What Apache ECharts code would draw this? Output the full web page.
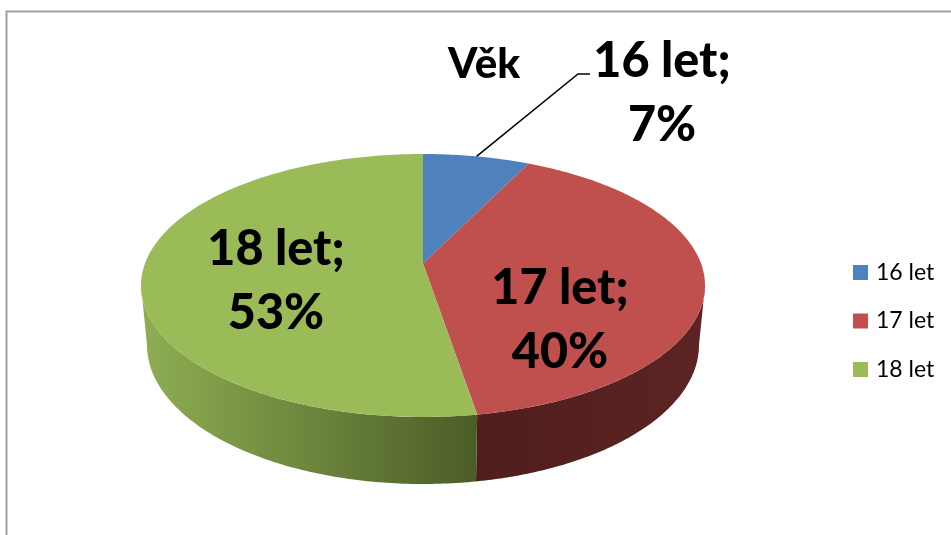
<!DOCTYPE html>
<html><head><meta charset="utf-8">
<style>html,body{margin:0;padding:0;background:#fff}#c{width:951px;height:535px}</style>
<script src="https://cdn.jsdelivr.net/npm/echarts@6/dist/echarts.min.js"></script>
</head><body><div id="c"></div>
<script>
const categories = ['16 let', '17 let', '18 let'];
const shares = [7.2, 40.2, 52.6];
const colors = ['#4f81bd', '#c0504d', '#9bbb59'];
const titleText = 'Věk';

const FONT = 'Lato, "Open Sans", sans-serif';
const top3d = {cx: 423, cy: 285.5, rx: 282, ry: 131.5, apexLift: 22};
const bottom3d = {cx: 423, cy: 345, rx: 276, ry: 139};
const labelPos = [[662, 93], [560, 320], [276, 281]];
const leaderEnd = [[578, 74], [590, 74]];
const wallGrad = [null, ['#4f1e1d', '#5c2422'], ['#8fae52', '#4b5d27']];
const total = shares.reduce((a, b) => a + b, 0);
const c = top3d.apexLift / top3d.ry;
const d = top3d.rx * Math.sqrt(1 - c * c);

// perspective projection of a point of the rim (theta clockwise from the top)
function rim(theta) {
  const X = Math.sin(theta), Y = Math.cos(theta), w = 1 + c * Y;
  return [top3d.cx + d * X / w, top3d.cy - (top3d.ry * Y + top3d.apexLift) / w];
}
function screenAngle(p) {
  return Math.atan2((p[0] - top3d.cx) / top3d.rx, (top3d.cy - p[1]) / top3d.ry);
}
function norm(a) { return a < 0 ? a + 2 * Math.PI : a; }

function renderItem(params, api) {
  const i = params.seriesIndex;
  let before = 0;
  for (let k = 0; k < i; k++) before += shares[k];
  const a0 = before / total * 2 * Math.PI;
  const a1 = (before + api.value(0)) / total * 2 * Math.PI;
  const children = [];

  // side wall: only the lower half of the rim is visible
  const f0 = Math.max(norm(screenAngle(rim(a0))), Math.PI / 2);
  const f1 = Math.min(i === 2 ? 1.5 * Math.PI : norm(screenAngle(rim(a1))), 1.5 * Math.PI);
  if (wallGrad[i] && f1 > f0) {
    const up = [], low = [];
    for (let k = 0; k <= 120; k++) {
      const f = f0 + (f1 - f0) * k / 120;
      up.push([top3d.cx + top3d.rx * Math.sin(f), top3d.cy - top3d.ry * Math.cos(f)]);
      low.push([bottom3d.cx + bottom3d.rx * Math.sin(f), bottom3d.cy - bottom3d.ry * Math.cos(f)]);
    }
    children.push({
      type: 'polygon',
      shape: {points: up.concat(low.reverse())},
      style: {fill: {type: 'linear', x: i === 1 ? 1 : 0, y: 0, x2: i === 1 ? 0 : 1, y2: 0,
        colorStops: [{offset: 0, color: wallGrad[i][i === 1 ? 1 : 0]}, {offset: 1, color: wallGrad[i][i === 1 ? 0 : 1]}]}}
    });
  }

  // top face
  const pts = [[top3d.cx, top3d.cy - top3d.apexLift]];
  for (let k = 0; k <= 160; k++) pts.push(rim(a0 + (a1 - a0) * k / 160));
  children.push({type: 'polygon', shape: {points: pts}, style: {fill: colors[i]}});

  // leader line for the outside label
  if (i === 0) {
    const m = rim((a0 + a1) / 2);
    children.push({
      type: 'polyline',
      shape: {points: [m].concat(leaderEnd)},
      style: {stroke: '#000', lineWidth: 1.5, fill: null}
    });
  }

  // data label
  children.push({
    type: 'text', z2: 10,
    style: {
      text: categories[i] + ';\n' + Math.round(api.value(0) / total * 100) + '%',
      x: labelPos[i][0], y: labelPos[i][1],
      align: 'center', verticalAlign: 'middle',
      fontFamily: FONT, fontWeight: 900, fontSize: 48.5, lineHeight: 64, fill: '#000'
    }
  });
  return {type: 'group', children};
}

const chart = echarts.init(document.getElementById('c'), null, {renderer: 'canvas'});
chart.setOption({
  animation: false,
  backgroundColor: '#fff',
  color: colors,
  title: {
    text: titleText, left: 443, top: 38,
    textStyle: {fontFamily: FONT, fontWeight: 900, fontSize: 42, color: '#000'}
  },
  legend: {
    orient: 'vertical', left: 848, top: 256,
    data: categories, icon: 'rect', itemWidth: 15, itemHeight: 15, itemGap: 25.5,
    selectedMode: false,
    textStyle: {fontFamily: FONT, fontSize: 23, color: '#000', height: 15, lineHeight: 15, padding: [0, 0, 0, 3]}
  },
  graphic: [{
    type: 'polyline', silent: true,
    shape: {points: [[6.5, 535], [6.5, 11.5], [951, 11.5]]},
    style: {stroke: '#a0a0a0', lineWidth: 2, fill: null}
  }],
  series: categories.map((name, i) => ({
    type: 'custom', name, coordinateSystem: 'none', silent: true,
    itemStyle: {color: colors[i]},
    renderItem, data: [[shares[i]]]
  }))
});
</script></body></html>
